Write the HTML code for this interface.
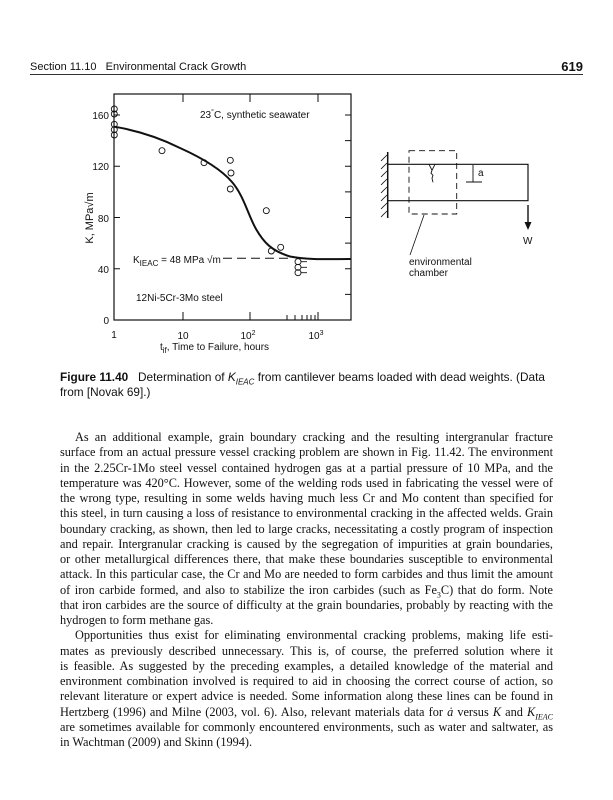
<!DOCTYPE html>
<html><head><meta charset="utf-8"><style>
body{margin:0;background:#fff;width:613px;height:800px;position:relative;overflow:hidden;font-family:"Liberation Sans",sans-serif;color:#111}
.hdr{position:absolute;top:61px;font-size:11px}
.rule{position:absolute;left:30px;width:553px;top:74px;border-top:1px solid #333}
.cap{position:absolute;left:60px;top:370px;width:500px;font-size:11.8px;line-height:15px}
.body{position:absolute;left:60px;top:430px;width:493px;font-family:"Liberation Serif",serif;font-size:12.3px;line-height:15.26px}
.l{text-align:justify;text-align-last:justify;white-space:nowrap;height:15.26px;overflow:visible}
.l.last{text-align-last:left}
.i{text-indent:15px}
sub{line-height:0}
</style></head><body>
<div class="hdr" style="left:30px">Section 11.10&nbsp;&nbsp; Environmental Crack Growth</div>
<div class="hdr" style="right:30px;font-weight:bold;font-size:13px;top:59px">619</div>
<div class="rule"></div>
<svg width="613" height="370" style="position:absolute;left:0;top:0" font-family="Liberation Sans, sans-serif">
<g stroke="#111" fill="none" stroke-width="1">
<rect x="114" y="94" width="237" height="226" stroke-width="1.2"/>
<path d="M183 320v-8M250 320v-8M318 320v-8M183 94v8M250 94v8M318 94v8"/>
<path d="M287 320v-5M295 320v-5M302 320v-5M307 320v-5M311 320v-5M315 320v-5"/>
<path d="M114 115h6M114 166.2h6M114 217.5h6M114 268.8h6M351 115h-6M351 140.6h-6M351 166.2h-6M351 191.9h-6M351 217.5h-6M351 243.1h-6M351 268.8h-6M351 294.4h-6"/>
<path d="M223 258.3H293" stroke-dasharray="9,5"/>
<path d="M114.3 126.7 C140 131,160 138,180 148 C200 157,220 168,232 182 C244 196,248 215,256 229 C264 243,272 251,290 256.5 C305 259.5,320 259.3,351 259" stroke-width="2"/>
<g stroke-width="0.9">
<circle cx="114.3" cy="109" r="3"/><circle cx="114.3" cy="114" r="3"/><circle cx="114.3" cy="124.3" r="3"/><circle cx="114.3" cy="129.7" r="3"/><circle cx="114.3" cy="135" r="3"/>
<circle cx="162" cy="150.7" r="3"/><circle cx="204" cy="162.7" r="3"/><circle cx="230.3" cy="160.3" r="3"/><circle cx="231" cy="173" r="3"/><circle cx="230.3" cy="189" r="3"/>
<circle cx="266.3" cy="210.7" r="3"/><circle cx="271.3" cy="251" r="3"/><circle cx="280.7" cy="247.3" r="3"/>
<circle cx="298" cy="261.7" r="3"/><circle cx="298" cy="267.3" r="3"/><circle cx="298" cy="272.7" r="3"/>
<path d="M301 261.7h6M301 267.3h6M301 272.7h6"/>
</g>
<path d="M387.7 152V218" stroke-width="1.5"/>
<path d="M387 155l-6 6M387 163l-6 6M387 171l-6 6M387 179l-6 6M387 187l-6 6M387 195l-6 6M387 203l-6 6M387 211l-6 6" stroke-width="0.8"/>
<path d="M388 164.3H528V200.7H388" stroke-width="1.2"/>
<rect x="409" y="150.7" width="47.7" height="63.3" stroke-dasharray="6,4" stroke-width="0.9"/>
<path d="M429 164.3l3 6-1 3 2 2-1 3 1 4M435 164.3l-3 6" stroke-width="0.9"/>
<path d="M473 165V182M466 182H482" stroke-width="0.9"/>
<path d="M528 205V226" stroke-width="1.4"/>
<path d="M424 215L410 255" stroke-width="0.8"/>
</g>
<path d="M524.5 222L528 230L531.5 222Z" fill="#111"/>
<g font-size="10" fill="#111">
<text x="478" y="176">a</text>
<text x="523" y="244">W</text>
<text x="409" y="265">environmental</text>
<text x="409" y="276">chamber</text>
<g text-anchor="end"><text x="109" y="119">160</text><text x="109" y="170">120</text><text x="109" y="222">80</text><text x="109" y="273">40</text><text x="109" y="324">0</text></g>
<g text-anchor="middle"><text x="114" y="338">1</text><text x="183" y="339">10</text><text x="248" y="339">10<tspan font-size="7" dy="-4">2</tspan></text><text x="316" y="339">10<tspan font-size="7" dy="-4">3</tspan></text></g>
<text x="200" y="118">23<tspan font-size="7" dy="-4">°</tspan><tspan dy="4">C, synthetic seawater</tspan></text>
<text x="136" y="301">12Ni-5Cr-3Mo steel</text>
<text x="133" y="263">K<tspan font-size="8" dy="3">IEAC</tspan><tspan dy="-3"> = 48 MPa √m</tspan></text>
<text x="160" y="350">t<tspan font-size="8" dy="3">if</tspan><tspan dy="-3">, Time to Failure, hours</tspan></text>
<text transform="translate(93,218) rotate(-90)" text-anchor="middle" font-size="11">K, MPa√m</text>
</g>
</svg>
<div class="cap"><b>Figure 11.40</b>&nbsp;&nbsp; Determination of <i>K<sub style="font-size:8px">IEAC</sub></i> from cantilever beams loaded with dead weights. (Data from [Novak 69].)</div>
<div class="body">
<div class="l i">As an additional example, grain boundary cracking and the resulting intergranular fracture</div>
<div class="l">surface from an actual pressure vessel cracking problem are shown in Fig. 11.42. The environment</div>
<div class="l">in the 2.25Cr-1Mo steel vessel contained hydrogen gas at a partial pressure of 10 MPa, and the</div>
<div class="l">temperature was 420°C. However, some of the welding rods used in fabricating the vessel were of</div>
<div class="l">the wrong type, resulting in some welds having much less Cr and Mo content than specified for</div>
<div class="l">this steel, in turn causing a loss of resistance to environmental cracking in the affected welds. Grain</div>
<div class="l">boundary cracking, as shown, then led to large cracks, necessitating a costly program of inspection</div>
<div class="l">and repair. Intergranular cracking is caused by the segregation of impurities at grain boundaries,</div>
<div class="l">or other metallurgical differences there, that make these boundaries susceptible to environmental</div>
<div class="l">attack. In this particular case, the Cr and Mo are needed to form carbides and thus limit the amount</div>
<div class="l">of iron carbide formed, and also to stabilize the iron carbides (such as Fe<sub style="font-size:8px">3</sub>C) that do form. Note</div>
<div class="l">that iron carbides are the source of difficulty at the grain boundaries, probably by reacting with the</div>
<div class="l last">hydrogen to form methane gas.</div>
<div class="l i">Opportunities thus exist for eliminating environmental cracking problems, making life esti-</div>
<div class="l">mates as previously described unnecessary. This is, of course, the preferred solution where it</div>
<div class="l">is feasible. As suggested by the preceding examples, a detailed knowledge of the material and</div>
<div class="l">environment combination involved is required to aid in choosing the correct course of action, so</div>
<div class="l">relevant literature or expert advice is needed. Some information along these lines can be found in</div>
<div class="l">Hertzberg (1996) and Milne (2003, vol. 6). Also, relevant materials data for <i>ȧ</i> versus <i>K</i> and <i>K<sub style="font-size:8px">IEAC</sub></i></div>
<div class="l">are sometimes available for commonly encountered environments, such as water and saltwater, as</div>
<div class="l last">in Wachtman (2009) and Skinn (1994).</div>
</div>
</body></html>
